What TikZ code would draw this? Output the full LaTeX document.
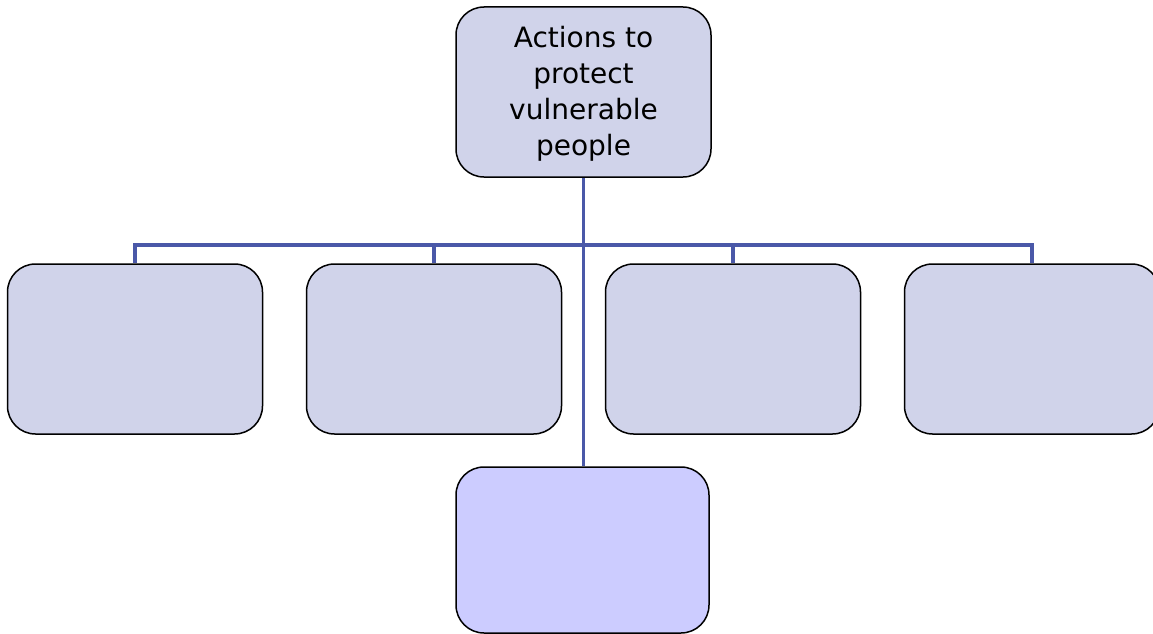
\documentclass[tikz,border=0pt]{standalone}
\usepackage{fontspec}
\setmainfont{DejaVu Sans}
\definecolor{boxfill}{HTML}{D0D3EA}
\definecolor{boxfillb}{HTML}{CCCCFF}
\definecolor{linkblue}{HTML}{4A58A8}
\tikzset{
  box/.style={draw=black, line width=1.5pt, rounded corners=28pt, fill=boxfill,
    minimum width=255pt, minimum height=170pt, inner sep=0pt, align=center,
    font=\fontsize{28}{36}\selectfont},
  link/.style={draw=linkblue, line width=3.2pt}
}
\begin{document}
\begin{tikzpicture}[x=1pt,y=-1pt]
\useasboundingbox (0,0) rectangle (1153,634);
\begin{scope}
\clip (0,0) rectangle (1153,634);
\node[box, text depth=2pt] (top) at (583.5,92) {Actions to\\protect\\vulnerable\\people};
\node[box] (b1) at (135,349) {};
\node[box] (b2) at (434,349) {};
\node[box] (b3) at (733,349) {};
\node[box] (b4) at (1032,349) {};
\node[box, fill=boxfillb, minimum width=253pt, minimum height=166pt] (b5) at (582.5,550) {};
\coordinate (bar) at (583.5,245);
\draw[link] (top.south) -- (bar);
\draw[link] (bar) -| (b1.north);
\draw[link] (bar) -| (b2.north);
\draw[link] (bar) -| (b3.north);
\draw[link] (bar) -| (b4.north);
\draw[link] (bar) -- (bar |- b5.north);
\end{scope}
\end{tikzpicture}
\end{document}
